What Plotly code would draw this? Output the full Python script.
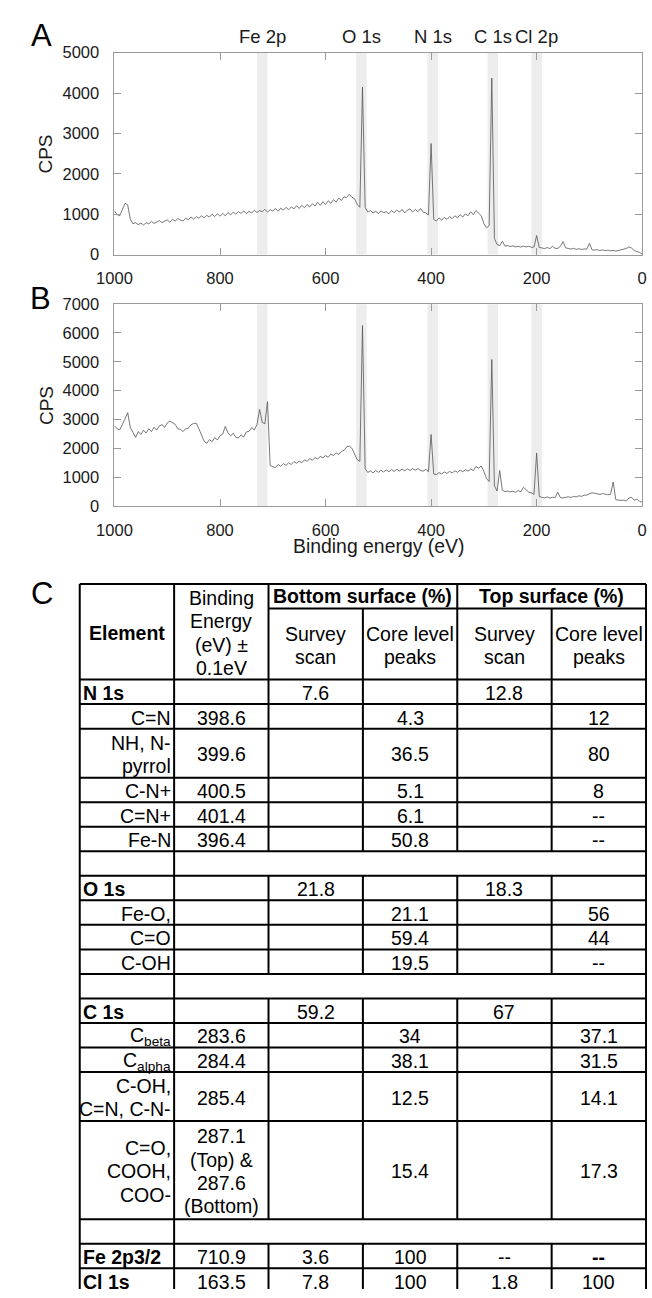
import plotly.graph_objects as go

# ---------------- spectra data (binding energy in eV, counts per second) ----------------
energy_ev = [
    1000, 995, 990, 985, 980, 975, 970, 965, 960, 955,
    950, 945, 940, 935, 930, 925, 920, 915, 910, 905,
    900, 895, 890, 885, 880, 875, 870, 865, 860, 855,
    850, 845, 840, 835, 830, 825, 820, 815, 810, 805,
    800, 795, 790, 785, 780, 775, 770, 765, 760, 755,
    750, 745, 740, 735, 730, 725, 720, 715, 710, 705,
    700, 695, 690, 685, 680, 675, 670, 665, 660, 655,
    650, 645, 640, 635, 630, 625, 620, 615, 610, 605,
    600, 595, 590, 585, 580, 575, 570, 565, 560, 555,
    550, 545, 540, 535, 530, 525, 520, 515, 510, 505,
    500, 495, 490, 485, 480, 475, 470, 465, 460, 455,
    450, 445, 440, 435, 430, 425, 420, 415, 410, 405,
    400, 395, 390, 385, 380, 375, 370, 365, 360, 355,
    350, 345, 340, 335, 330, 325, 320, 315, 310, 305,
    300, 295, 290, 285, 280, 275, 270, 265, 260, 255,
    250, 245, 240, 235, 230, 225, 220, 215, 210, 205,
    200, 195, 190, 185, 180, 175, 170, 165, 160, 155,
    150, 145, 140, 135, 130, 125, 120, 115, 110, 105,
    100, 95, 90, 85, 80, 75, 70, 65, 60, 55,
    50, 45, 40, 35, 30, 25, 20, 15, 10, 5,
    0,
]

cps_a = [
    1080, 990, 960, 1120, 1270, 1230, 880, 760, 790, 740,
    780, 730, 790, 760, 820, 770, 800, 840, 790, 830,
    860, 800, 870, 830, 890, 850, 830, 900, 860, 930,
    880, 940, 900, 960, 910, 970, 930, 1000, 940, 1010,
    950, 1020, 960, 1040, 980, 1050, 1000, 1060, 1020, 1080,
    1010, 1070, 1030, 1100, 1040, 1090, 1060, 1120, 1050, 1110,
    1080, 1140, 1070, 1150, 1100, 1170, 1110, 1180, 1130, 1210,
    1140, 1220, 1160, 1240, 1180, 1260, 1200, 1290, 1220, 1310,
    1240, 1330, 1270, 1360, 1300, 1400, 1340, 1430, 1410, 1490,
    1420, 1380, 1240, 1170, 4150, 1170, 1050, 1090, 1030, 1070,
    1020, 1080, 1040, 1060, 1010, 1090, 1040, 1100, 1050, 1120,
    1030, 1100, 1130, 1050, 1120, 1060, 1140, 1050, 1030, 980,
    2750, 870, 830, 910, 850, 920, 870, 940, 890, 960,
    910, 990, 930, 1010, 960, 1060, 990, 1090, 1030, 960,
    770, 660, 720, 4370, 400, 250, 220, 330, 210, 220,
    200, 215, 190, 205, 185, 210, 190, 205, 180, 185,
    470, 175, 165, 145, 175, 145, 205, 155, 150, 205,
    320, 165, 150, 135, 155, 125, 145, 125, 140, 135,
    280, 115, 110, 120, 100, 115, 95, 110, 90, 105,
    85, 100, 110, 125, 150, 190, 160, 100, 80, 50,
    20,
]

cps_b = [
    2780, 2680, 2640, 2820, 3020, 3240, 2720, 2560, 2380, 2580,
    2480, 2630, 2530, 2680, 2580, 2730, 2630, 2780, 2820, 2730,
    2880, 2950, 2880, 2830, 2680, 2660, 2580, 2680, 2700, 2820,
    2860, 2870, 2680, 2460, 2240, 2180, 2300, 2230, 2370, 2290,
    2440, 2490, 2760, 2540, 2430, 2520, 2380, 2360, 2470, 2390,
    2570, 2590, 2720, 2640, 2820, 3350, 2900, 2850, 3620, 1400,
    1370, 1330, 1440, 1380, 1470, 1410, 1500, 1440, 1540, 1480,
    1560, 1500, 1600, 1550, 1640, 1590, 1680, 1630, 1720, 1670,
    1750, 1690, 1800, 1750, 1840, 1790, 1890, 1930, 2050, 2080,
    2000, 1800, 1600, 1550, 6260, 1300, 1160, 1220, 1150, 1230,
    1170, 1240, 1180, 1250, 1190, 1260, 1200, 1270, 1210, 1280,
    1220, 1290, 1230, 1300, 1240, 1300, 1230, 1210, 1270, 1190,
    2480, 1110, 1090, 1160, 1110, 1180, 1130, 1200, 1150, 1220,
    1170, 1240, 1190, 1260, 1210, 1280, 1230, 1370, 1310, 1390,
    1200, 950, 850, 5080, 700, 520, 1230, 550, 500, 520,
    490, 515, 475, 535, 495, 650, 560, 480, 460, 400,
    1840, 330, 300, 285, 315, 275, 305, 285, 480, 290,
    280, 305, 320, 295, 335, 315, 355, 335, 375, 380,
    420, 460, 440, 415, 400, 435, 405, 390, 405, 830,
    220, 200, 190, 205, 180, 280, 300, 200, 240, 160,
    130,
]

x_ticks = [1000, 800, 600, 400, 200, 0]
y_ticks_a = [0, 1000, 2000, 3000, 4000, 5000]
y_ticks_b = [0, 1000, 2000, 3000, 4000, 5000, 6000, 7000]

peak_names = ["Fe 2p", "O 1s", "N 1s", "C 1s", "Cl 2p"]
peak_centers = [720, 532, 397, 283, 200]
band_width_ev = 20

# ---------------- table data ----------------
row_labels = ["N 1s", "C=N", "NH, N-\npyrrol", "C-N+", "C=N+", "Fe-N", "",
              "O 1s", "Fe-O,", "C=O", "C-OH", "",
              "C 1s", "C<sub>beta</sub>", "C<sub>alpha</sub>", "C-OH,\nC=N, C-N-",
              "C=O,\nCOOH,\nCOO-", "", "Fe 2p3/2", "Cl 1s"]
row_kind = ["main", "sub", "sub", "sub", "sub", "sub", "blank",
            "main", "sub", "sub", "sub", "blank",
            "main", "sub", "sub", "sub", "sub", "blank", "main", "main"]
row_lines = [1, 1, 2, 1, 1, 1, 1,
             1, 1, 1, 1, 1,
             1, 1, 1, 2, 4, 1, 1, 1]
binding_energy = ["", "398.6", "399.6", "400.5", "401.4", "396.4", "",
                  "", "", "", "", "",
                  "", "283.6", "284.4", "285.4", "287.1\n(Top) &\n287.6\n(Bottom)", "", "710.9", "163.5"]
bottom_survey = ["7.6", "", "", "", "", "", "",
                 "21.8", "", "", "", "",
                 "59.2", "", "", "", "", "", "3.6", "7.8"]
bottom_core = ["", "4.3", "36.5", "5.1", "6.1", "50.8", "",
               "", "21.1", "59.4", "19.5", "",
               "", "34", "38.1", "12.5", "15.4", "", "100", "100"]
top_survey = ["12.8", "", "", "", "", "", "",
              "18.3", "", "", "", "",
              "67", "", "", "", "", "", "--", "1.8"]
top_core = ["", "12", "80", "8", "--", "--", "",
            "", "56", "44", "--", "",
            "", "37.1", "31.5", "14.1", "17.3", "", "<b>--</b>", "100"]

header_element = "Element"
header_binding = "Binding\nEnergy\n(eV) ±\n0.1eV"
header_groups = ["Bottom surface (%)", "Top surface (%)"]
header_sub = ["Survey\nscan", "Core level\npeaks", "Survey\nscan", "Core level\npeaks"]

# ---------------- style / layout constants ----------------
W, H = 652, 1298
FONT = "Arial, 'Liberation Sans', sans-serif"
AXC = "#9a9a9a"
TXT = "#1a1a1a"

def py(p):  # pixel row -> paper y
    return 1 - p / H

def px(p):  # pixel col -> paper x
    return p / W

fig = go.Figure()

fig.add_trace(go.Scatter(x=energy_ev, y=cps_a, mode="lines", xaxis="x", yaxis="y",
                         line=dict(color="#555555", width=0.8), hoverinfo="skip", showlegend=False))
fig.add_trace(go.Scatter(x=energy_ev, y=cps_b, mode="lines", xaxis="x2", yaxis="y2",
                         line=dict(color="#555555", width=0.8), hoverinfo="skip", showlegend=False))
fig.add_trace(go.Scatter(x=[0], y=[0], mode="markers", xaxis="x3", yaxis="y3",
                         marker=dict(opacity=0), hoverinfo="skip", showlegend=False))

axis_common = dict(showline=True, mirror="ticks", linecolor=AXC, linewidth=1,
                   ticks="inside", ticklen=7, tickcolor=AXC, tickwidth=1,
                   showgrid=False, zeroline=False,
                   tickfont=dict(family=FONT, size=16.5, color=TXT))

xdom = [px(100), px(647)]
shapes = []
annotations = []

# shaded bands on both spectra
for xr, yr in (("x", "y domain"), ("x2", "y2 domain")):
    for c in peak_centers:
        shapes.append(dict(type="rect", xref=xr, yref=yr, x0=c - band_width_ev / 2, x1=c + band_width_ev / 2,
                           y0=0, y1=1, fillcolor="#ededed", line=dict(width=0), layer="below"))

for name, c in zip(peak_names, peak_centers):
    annotations.append(dict(text=name, x=c, y=1, xref="x", yref="y domain", yshift=16,
                            showarrow=False, yanchor="middle", xanchor="center",
                            font=dict(family=FONT, size=18.5, color=TXT)))

for yr in ("y domain", "y2 domain"):
    annotations.append(dict(text="CPS", x=px(29), y=0.5, xref="paper", yref=yr, textangle=-90,
                            showarrow=False, xanchor="center", yanchor="middle",
                            font=dict(family=FONT, size=19, color=TXT)))

annotations.append(dict(text="Binding energy (eV)", x=0.5, y=0, xref="x2 domain", yref="y2 domain",
                        yshift=-40, showarrow=False, xanchor="center", yanchor="middle",
                        font=dict(family=FONT, size=19.4, color=TXT)))

for letter, (lx, ly) in zip(["A", "B", "C"], [(24, 27), (23, 294), (25, 593)]):
    annotations.append(dict(text=letter, x=px(lx), y=py(ly), xref="paper", yref="paper",
                            showarrow=False, xanchor="center", yanchor="middle",
                            font=dict(family=FONT, size=31, color="#000")))

# ---------------- table via its own axes ----------------
UNIT = 24.875          # pixels per row-line unit
COLW = 587 / 6         # pixels per column
TBL_LEFT, TBL_TOP = 64, 583
HEADER_UNITS = 97 / UNIT
SUBHEAD = 1.0
LSP = 0.95             # line spacing in units
TFS = 19.5
TCOL = "#000"

def add_text(text, x, yc, anchor="center", bold=False):
    lines = text.split("\n")
    n = len(lines)
    for k, ln in enumerate(lines):
        t = f"<b>{ln}</b>" if bold else ln
        annotations.append(dict(text=t, x=x, y=yc + (k - (n - 1) / 2) * LSP, xref="x3", yref="y3",
                                showarrow=False, xanchor=anchor, yanchor="middle",
                                font=dict(family=FONT, size=TFS, color=TCOL)))

def hline(y, x0, x1):
    shapes.append(dict(type="line", xref="x3", yref="y3", x0=x0, x1=x1, y0=y, y1=y,
                       line=dict(color="#000", width=2)))

def vline(x, y0, y1):
    shapes.append(dict(type="line", xref="x3", yref="y3", x0=x, x1=x, y0=y0, y1=y1,
                       line=dict(color="#000", width=2)))

# header
add_text(header_element, 0.5, HEADER_UNITS / 2 + 0.05, bold=True)
add_text(header_binding, 1.5, 2.0)
add_text(header_groups[0], 3.0, SUBHEAD / 2, bold=True)
add_text(header_groups[1], 5.0, SUBHEAD / 2, bold=True)
for j, t in enumerate(header_sub):
    add_text(t, 2.5 + j, (SUBHEAD + HEADER_UNITS) / 2 + 0.05)

hline(0, 0, 6)
hline(SUBHEAD, 2, 6)
hline(HEADER_UNITS, 0, 6)
vline(2, 0, HEADER_UNITS)
vline(4, 0, HEADER_UNITS)
vline(3, SUBHEAD, HEADER_UNITS)
vline(5, SUBHEAD, HEADER_UNITS)

y_top = HEADER_UNITS
for i in range(len(row_labels)):
    h = row_lines[i]
    y_bot = y_top + h
    yc = (y_top + y_bot) / 2
    kind = row_kind[i]
    if kind == "main":
        add_text(row_labels[i], 0.015, yc + 0.05, anchor="left", bold=True)
    elif kind == "sub":
        add_text(row_labels[i], 0.985, yc + 0.05, anchor="right")
    if kind != "blank":
        cells = [binding_energy[i], bottom_survey[i], bottom_core[i], top_survey[i], top_core[i]]
        for j, c in enumerate(cells):
            if c:
                add_text(c, 1.5 + j, yc + 0.05)
        for xv in (2, 3, 4, 5):
            vline(xv, y_top, y_bot)
    hline(y_bot, 0, 6)
    y_top = y_bot

table_bottom = y_top
vline(0, 0, table_bottom)
vline(1, 0, table_bottom)
vline(6, 0, table_bottom)

x3_range = [-5 / COLW, (W - TBL_LEFT) / COLW]
y3_range = [(H - TBL_TOP) / UNIT, -5 / UNIT]

fig.update_layout(
    autosize=True,
    margin=dict(l=0, r=0, t=0, b=0, pad=0),
    paper_bgcolor="white", plot_bgcolor="white",
    showlegend=False,
    font=dict(family=FONT, color=TXT),
    xaxis=dict(domain=xdom, range=[1000, 0], anchor="y", tickvals=x_ticks,
               ticklabelstandoff=9, **axis_common),
    yaxis=dict(domain=[py(249), py(44.3)], range=[0, 5000], anchor="x", tickvals=y_ticks_a,
               ticklabelstandoff=11, **axis_common),
    xaxis2=dict(domain=xdom, range=[1000, 0], anchor="y2", tickvals=x_ticks,
                ticklabelstandoff=9, **axis_common),
    yaxis2=dict(domain=[py(504), py(299.3)], range=[0, 7000], anchor="x2", tickvals=y_ticks_b,
                ticklabelstandoff=11, **axis_common),
    xaxis3=dict(domain=[px(TBL_LEFT - 5), 1.0], range=x3_range, anchor="y3", visible=False),
    yaxis3=dict(domain=[0, py(TBL_TOP - 5)], range=y3_range, anchor="x3", visible=False),
    shapes=shapes,
    annotations=annotations,
)

# The plot div is pinned to the page's top-left corner so the body margin does not shift it.
fig.write_html("out.html", config={"displayModeBar": False},
               default_width=f"{W}px",
               default_height=f"{H}px; position:absolute; top:0; left:0")
